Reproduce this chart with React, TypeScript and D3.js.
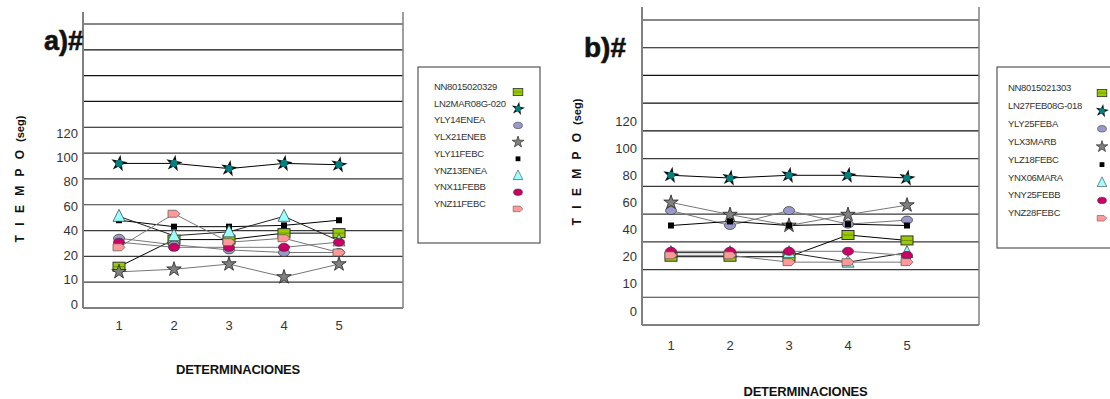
import React, { useRef, useEffect } from 'react';
import * as d3 from 'd3';

const determinaciones = [1, 2, 3, 4, 5];
const yTicks = [0, 10, 20, 40, 60, 80, 100, 120];

// panel a)
const namesA = ['NN8015020329', 'LN2MAR08G-020', 'YLY14ENEA', 'YLX21ENEB', 'YLY11FEBC', 'YNZ13ENEA', 'YNX11FEBB', 'YNZ11FEBC'];
const nnA = [16, 33, 33, 38, 38];
const lnA = [92, 92, 88, 92, 91];
const ly14A = [34, 29, 25, 23, 23];
const lx21A = [14, 15, 17, 12, 17];
const ly11A = [48, 43, 43, 44, 48];
const nz13A = [51, 36, 39, 51, 32];
const nx11A = [31, 27, 27, 27, 31];
const nz11A = [27, 53, 31, 34, 23];

// panel b)
const namesB = ['NN8015021303', 'LN27FEB08G-018', 'YLY25FEBA', 'YLX3MARB', 'YLZ18FEBC', 'YNX06MARA', 'YNY25FEBB', 'YNZ28FEBC'];
const nnB = [20, 20, 20, 36, 32];
const lnB = [80, 78, 80, 80, 78];
const ly25B = [54, 43, 54, 44, 47];
const lx3B = [60, 51, 43, 51, 58];
const lz18B = [43, 46, 43, 44, 43];
const nx06B = [23, 23, 23, 18, 23];
const ny25B = [24, 24, 24, 24, 21];
const nz28B = [21, 21, 18, 18, 18];

const markerKinds = ['rect', 'burst', 'ellipse', 'star', 'square', 'triangle', 'ellipse', 'tab'];
const markerColors = ['#99cc00', '#008080', '#9999cc', '#808080', '#000000', '#99ffff', '#cc0066', '#ff9999'];
const lineColors = ['#000', '#000', '#777', '#777', '#000', '#222', '#777', '#777'];

const drawMarker = (g, kind, color, x, y, s = 1) => {
  const m = g.append('g').attr('transform', `translate(${x},${y}) scale(${s})`);
  if (kind === 'rect') {
    m.append('rect').attr('x', -6).attr('y', -4.5).attr('width', 12).attr('height', 9)
      .attr('fill', color).attr('stroke', '#333').attr('stroke-width', 1);
    m.append('line').attr('x1', -6).attr('x2', 6).attr('y1', 0).attr('y2', 0).attr('stroke', '#556b00').attr('stroke-width', 0.6);
  } else if (kind === 'burst') {
    m.append('path').attr('d', d3.symbol(d3.symbolStar, 85)()).attr('fill', '#111').attr('transform', 'rotate(10)');
    m.append('circle').attr('r', 3.6).attr('fill', color);
  } else if (kind === 'ellipse') {
    m.append('ellipse').attr('rx', 5.5).attr('ry', 4).attr('fill', color).attr('stroke', '#333').attr('stroke-width', 0.7);
  } else if (kind === 'star') {
    m.append('path').attr('d', d3.symbol(d3.symbolStar, 65)()).attr('fill', color).attr('stroke', '#222').attr('stroke-width', 0.8);
  } else if (kind === 'square') {
    m.append('rect').attr('x', -3).attr('y', -3).attr('width', 6).attr('height', 6).attr('fill', color);
  } else if (kind === 'triangle') {
    m.append('path').attr('d', 'M0,-7L6,5H-6Z').attr('fill', color).attr('stroke', '#333').attr('stroke-width', 0.7);
  } else if (kind === 'tab') {
    m.append('path').attr('d', 'M-6,-3.5H2.5L6,0L2.5,3.5H-6Z').attr('fill', color).attr('stroke', '#555').attr('stroke-width', 0.7);
  }
};

const drawPanel = (svg, cfg) => {
  const { left, right, top, bottom, gridTop, labelBottom, labelTop, xFirst, xLast, title, titleX, titleY, titleSize,
    dataOnLabels, legend, names, series, yTitleX, yTitleY, xTitleY, xLabelY } = cfg;
  const g = svg.append('g');

  const grid = d3.scaleLinear().domain([0, 11]).range([bottom, gridTop]);
  const labelPos = d3.scaleLinear().domain([0, yTicks.length - 1]).range([labelBottom, labelTop]);
  const valueIdx = d3.scaleLinear().domain(yTicks).range(yTicks.map((_, i) => i));
  const y = (v) => (dataOnLabels ? labelPos(valueIdx(v)) : grid(valueIdx(v)));
  const x = d3.scaleLinear().domain([1, 5]).range([xFirst, xLast]);

  // gridlines
  g.selectAll('line.grid').data(d3.range(1, 12)).join('line')
    .attr('x1', left).attr('x2', right)
    .attr('y1', (d) => grid(d)).attr('y2', (d) => grid(d))
    .attr('stroke', (d) => (d > 6 ? '#111' : '#3a3a3a')).attr('stroke-width', 1.2);

  // frame
  g.append('line').attr('x1', left).attr('x2', left).attr('y1', top).attr('y2', bottom).attr('stroke', '#808080').attr('stroke-width', 2);
  g.append('line').attr('x1', right).attr('x2', right).attr('y1', top).attr('y2', bottom).attr('stroke', '#808080').attr('stroke-width', 1.5);
  g.append('line').attr('x1', left).attr('x2', right).attr('y1', bottom).attr('y2', bottom).attr('stroke', '#808080').attr('stroke-width', 2);

  // y tick labels
  g.selectAll('text.ytick').data(yTicks).join('text')
    .attr('x', left - 5).attr('y', (d, i) => labelPos(i))
    .attr('dy', '0.35em').attr('text-anchor', 'end')
    .attr('font-family', 'Arial, Liberation Sans, sans-serif').attr('font-size', 13).attr('fill', '#333')
    .text((d) => d);

  // x tick labels
  g.selectAll('text.xtick').data(determinaciones).join('text')
    .attr('x', (d) => x(d)).attr('y', xLabelY).attr('text-anchor', 'middle')
    .attr('font-family', 'Arial, Liberation Sans, sans-serif').attr('font-size', 13).attr('fill', '#333')
    .text((d) => d);

  // series lines
  const line = d3.line().x((d, i) => x(determinaciones[i])).y((d) => y(d));
  series.forEach((vals, si) => {
    g.append('path').attr('d', line(vals)).attr('fill', 'none')
      .attr('stroke', lineColors[si]).attr('stroke-width', 1);
  });
  // markers
  series.forEach((vals, si) => {
    vals.forEach((v, i) => drawMarker(g, markerKinds[si], markerColors[si], x(determinaciones[i]), y(v)));
  });

  // titles
  g.append('text').attr('x', titleX).attr('y', titleY)
    .attr('font-family', 'Liberation Sans, Arial, sans-serif').attr('font-weight', 'bold').attr('font-size', titleSize)
    .attr('fill', '#111').attr('stroke', '#111').attr('stroke-width', 0.6).text(title);

  g.append('text').attr('x', (left + right) / 2 - 5).attr('y', xTitleY).attr('text-anchor', 'middle')
    .attr('font-family', 'Arial, Liberation Sans, sans-serif').attr('font-weight', 'bold').attr('font-size', 13)
    .attr('letter-spacing', -0.2).attr('fill', '#111').text('DETERMINACIONES');

  const yt = g.append('text').attr('transform', `translate(${yTitleX},${yTitleY}) rotate(-90)`)
    .attr('text-anchor', 'middle').attr('dy', '0.35em')
    .attr('font-family', 'Arial, Liberation Sans, sans-serif').attr('font-weight', 'bold').attr('fill', '#111');
  yt.append('tspan').attr('font-size', 12).attr('letter-spacing', 3).text('T I E M P O');
  yt.append('tspan').attr('font-size', 11).attr('dx', 5).text('(seg)');

  // legend
  const lg = g.append('g');
  lg.append('rect').attr('x', legend.x).attr('y', legend.y).attr('width', legend.w).attr('height', legend.h)
    .attr('fill', '#fff').attr('stroke', '#555').attr('stroke-width', 1.2);
  names.forEach((n, i) => {
    const ty = legend.y + legend.first + i * legend.step;
    lg.append('text').attr('x', legend.x + legend.tx).attr('y', ty)
      .attr('font-family', 'Arial, Liberation Sans, sans-serif').attr('font-size', 9.5).attr('fill', '#333')
      .attr('letter-spacing', -0.3).text(n);
    drawMarker(lg, markerKinds[i], markerColors[i], legend.x + legend.mx, ty + 2, 0.8);
  });
};

const App = () => {
  const svgRef = useRef(null);

  useEffect(() => {
    const svg = d3.select(svgRef.current);
    svg.selectAll('*').remove();

    drawPanel(svg, {
      left: 83, right: 403, top: 12, bottom: 308, gridTop: 24,
      labelBottom: 304, labelTop: 133, xFirst: 119, xLast: 339,
      title: 'a)#', titleX: 44, titleY: 50, titleSize: 27, dataOnLabels: false,
      names: namesA, series: [nnA, lnA, ly14A, lx21A, ly11A, nz13A, nx11A, nz11A],
      yTitleX: 18, yTitleY: 179, xTitleY: 374, xLabelY: 330,
      legend: { x: 418, y: 67, w: 122, h: 176, first: 23, step: 16.7, tx: 16, mx: 100 },
    });

    drawPanel(svg, {
      left: 642, right: 979, top: 7, bottom: 325, gridTop: 20,
      labelBottom: 311, labelTop: 121, xFirst: 671, xLast: 907,
      title: 'b)#', titleX: 584, titleY: 57, titleSize: 28, dataOnLabels: true,
      names: namesB, series: [nnB, lnB, ly25B, lx3B, lz18B, nx06B, ny25B, nz28B],
      yTitleX: 575, yTitleY: 162, xTitleY: 396, xLabelY: 350,
      legend: { x: 997, y: 67, w: 130, h: 181, first: 24, step: 17.9, tx: 11, mx: 105 },
    });
  }, []);

  return (
    <svg ref={svgRef} width={1110} height={399}
      style={{ position: 'absolute', left: 0, top: 0, background: '#fff' }} />
  );
};

export default App;
